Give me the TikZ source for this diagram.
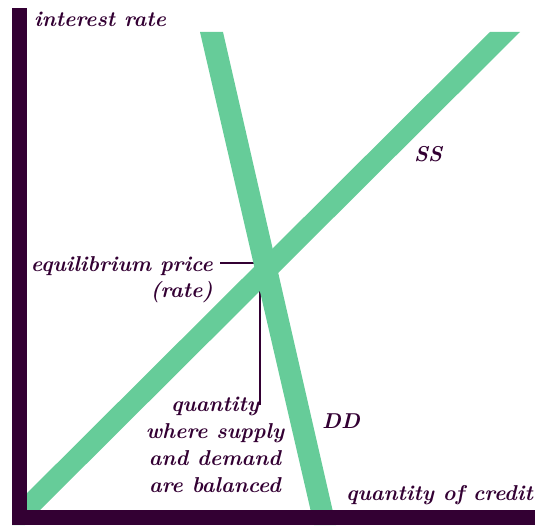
\documentclass[tikz,border=0pt]{standalone}
\usepackage{tikz}
\definecolor{axiscol}{HTML}{330033}
\definecolor{bandcol}{HTML}{66CC99}

\begin{document}
\begin{tikzpicture}[x=1pt,y=1pt,
  lbl/.style={text=axiscol,font=\fontsize{21.5}{27}\selectfont\bfseries\itshape,inner sep=0pt},
  band/.style={fill=bandcol},
  guide/.style={draw=axiscol,line width=1.6pt}]
  \useasboundingbox (0,0) rectangle (538,525);
  % equilibrium
  \coordinate (eq) at (263,262);
  \coordinate (qend) at (260,120);
  \node[lbl,anchor=base east] (price) at (213,253) {equilibrium price};
  \node[lbl,anchor=base east] (rate) at (213,227) {(rate)};
  \node[lbl,anchor=north,align=center] (qty) at (215,128)
    {quantity\\where supply\\and demand\\are balanced};
  \draw[guide] ([xshift=7pt]price.east |- eq) -- (eq);
  \draw[guide] (eq -| qend) -- (qend);
  % supply (SS) and demand (DD) bands
  \begin{scope}
    \clip (12,0) rectangle (538,525);
    \fill[band] (490,493) -- (520,493) -- (25,0) -- (-5,0) -- cycle;
    \fill[band] (200,493) -- (223,493) -- (336,0) -- (314,0) -- cycle;
  \end{scope}
  % axes
  \fill[axiscol] (12,0) rectangle (27,517);
  \fill[axiscol] (12,0) rectangle (535,15);
  \node[lbl,anchor=base west] (yaxis) at (34,498) {interest rate};
  \node[lbl,anchor=base east] (xaxis) at (533,25) {quantity of credit};
  \node[lbl,anchor=base west] (ss) at (414,363) {SS};
  \node[lbl,anchor=base west] (dd) at (322,97) {DD};
\end{tikzpicture}
\end{document}
